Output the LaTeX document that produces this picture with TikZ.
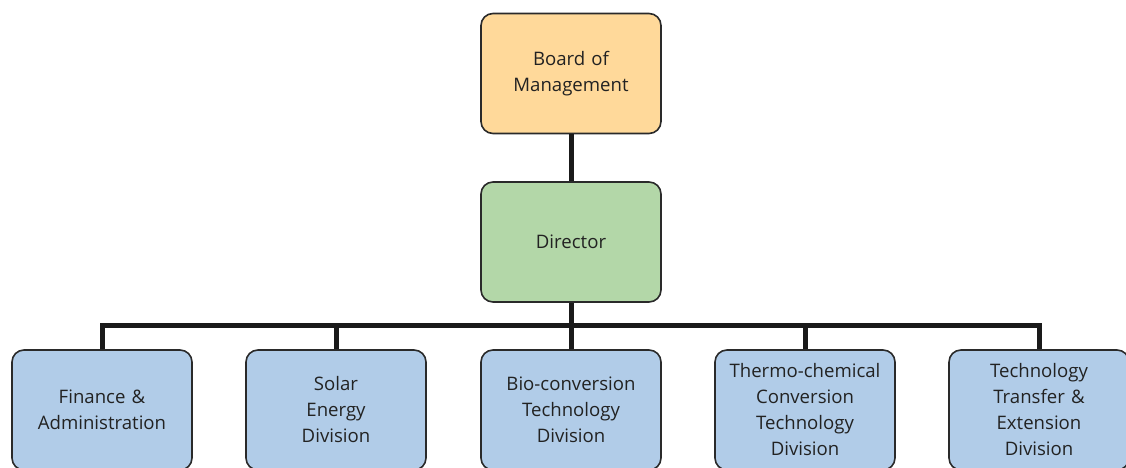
\documentclass[tikz,border=0pt]{standalone}
\usepackage{fontspec}
\setmainfont{Open Sans}
\definecolor{boardc}{HTML}{FFD99A}
\definecolor{dirc}{HTML}{B3D7A8}
\definecolor{divc}{HTML}{B1CCE8}
\definecolor{edgec}{HTML}{2A2A2A}
\definecolor{linec}{HTML}{1A1A1A}
\definecolor{textc}{HTML}{222222}
\begin{document}
\begin{tikzpicture}[x=1pt,y=-1pt,
  orgbox/.style={draw=edgec, line width=1.6pt, rounded corners=12pt,
    minimum width=180pt, minimum height=120pt, inner sep=2pt,
    align=center, text=textc, font=\fontsize{18.6}{26}\selectfont, text width=176pt},
  conn/.style={draw=linec, line width=5pt}]
\useasboundingbox (0,0) rectangle (1126,468);
\begin{scope}
\clip (0,0) rectangle (1126,468);
\node[orgbox, fill=boardc] (board) at (571,73.5) {Board of\\Management};
\node[orgbox, fill=dirc] (dir) at (571,242) {Director};
\node[orgbox, fill=divc] (fin) at (102,410) {Finance \&\\Administration};
\node[orgbox, fill=divc] (sol) at (336,410) {Solar\\Energy\\Division};
\node[orgbox, fill=divc] (bio) at (571,410) {Bio-conversion\\Technology\\Division};
\node[orgbox, fill=divc] (thermo) at (805,410) {Thermo-chemical\\Conversion\\Technology\\Division};
\node[orgbox, fill=divc] (tech) at (1039,410) {Technology\\Transfer \&\\Extension\\Division};
\coordinate (bus) at (571,325);
\draw[conn] (board.south) -- (dir.north);
\draw[conn] (dir.south) -- (bio.north);
\draw[conn] (fin.north) |- (bus) -| (tech.north);
\draw[conn] (sol.north) -- (sol.north |- bus);
\draw[conn] (thermo.north) -- (thermo.north |- bus);
\end{scope}
\end{tikzpicture}
\end{document}
